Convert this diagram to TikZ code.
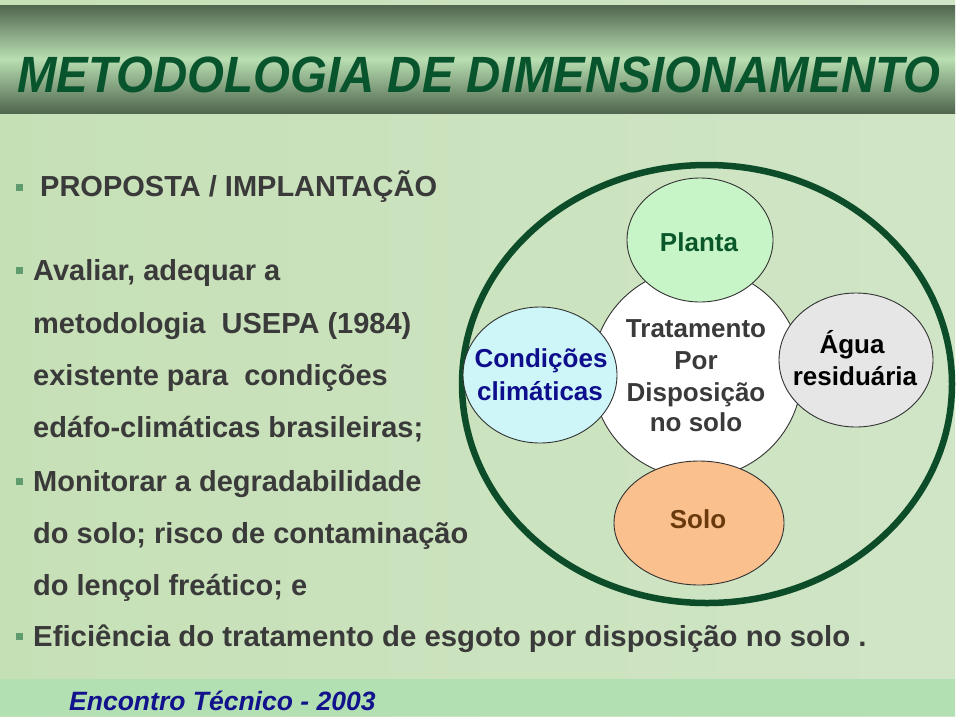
\documentclass[tikz,border=0pt]{standalone}
\usepackage{fontspec}
\setmainfont{Liberation Sans}
\usetikzlibrary{shapes.geometric}
\definecolor{bgA}{RGB}{198,224,182}
\definecolor{bgB}{RGB}{208,229,198}
\definecolor{barDark}{RGB}{80,102,78}
\definecolor{barLight}{RGB}{184,222,178}
\definecolor{titleGreen}{RGB}{8,84,44}
\definecolor{txtGrey}{RGB}{58,58,58}
\definecolor{bulGreen}{RGB}{96,156,110}
\definecolor{footGreen}{RGB}{178,224,178}
\definecolor{footBlue}{RGB}{18,18,140}
\definecolor{ringGreen}{RGB}{12,76,40}
\definecolor{plantaFill}{RGB}{200,245,200}
\definecolor{plantaTxt}{RGB}{10,88,42}
\definecolor{condFill}{RGB}{206,245,248}
\definecolor{condTxt}{RGB}{14,14,140}
\definecolor{aguaFill}{RGB}{230,230,230}
\definecolor{soloFill}{RGB}{250,192,142}
\definecolor{soloTxt}{RGB}{106,58,12}
\definecolor{edgeGrey}{RGB}{50,50,50}
\tikzset{
  bodytxt/.style={anchor=base west, inner sep=0pt, text=txtGrey, font=\bfseries\fontsize{29}{35}\selectfont},
  bul/.style={fill=bulGreen, minimum width=7pt, minimum height=7pt, inner sep=0pt, draw=none},
  ell/.style={ellipse, draw=edgeGrey, line width=0.9pt, inner sep=0pt},
  lbl/.style={anchor=base, inner sep=0pt, font=\bfseries\fontsize{26}{32}\selectfont},
}
\begin{document}
\begin{tikzpicture}[x=1pt,y=-1pt]
\useasboundingbox (0,0) rectangle (960,720);
\fill[white] (0,0) rectangle (960,720);
% textured background
\shade[left color=bgA, right color=bgB] (0,0) rectangle (955,716);
% title bar
\shade[top color=barDark, bottom color=barDark, middle color=barLight] (0,5) rectangle (955,113);
\node[anchor=base west, inner sep=0pt, text=titleGreen, font=\bfseries\itshape\fontsize{51}{58}\selectfont] (title) at (17,92) {\scalebox{0.93}[1]{METODOLOGIA DE DIMENSIONAMENTO}};
% footer
\fill[footGreen] (0,679) rectangle (955,716);
\node[anchor=base west, inner sep=0pt, text=footBlue, font=\bfseries\itshape\fontsize{26.5}{30}\selectfont] (foot) at (69,710) {Encontro Técnico - 2003};

% big ring
\node[ellipse, draw=ringGreen, line width=6.5pt, minimum width=490pt, minimum height=438pt, inner sep=0pt] (ring) at (707,384) {};

% left text
\node[bul] (b1) at (19.5,187) {};
\node[bodytxt] (t1) at (40,196) {PROPOSTA / IMPLANTAÇÃO};
\node[bul] (b2) at (19.5,270) {};
\node[bodytxt] (t2) at (33,280) {Avaliar, adequar a};
\node[bodytxt] (t3) at (33,333) {metodologia\ \ USEPA (1984)};
\node[bodytxt] (t4) at (33,385) {existente para\ \ condições};
\node[bodytxt] (t5) at (33,437) {edáfo-climáticas brasileiras;};
\node[bul] (b3) at (19.5,481) {};
\node[bodytxt] (t6) at (33,491) {Monitorar a degradabilidade};
\node[bodytxt] (t7) at (33,543) {do solo; risco de contaminação};
\node[bodytxt] (t8) at (33,595) {do lençol freático; e};
\node[bul] (b4) at (19.5,636) {};
\node[bodytxt] (t9) at (33,646) {\scalebox{1.012}[1]{Eficiência do tratamento de esgoto por disposição no solo .}};

% diagram
\node[circle, draw=edgeGrey, line width=0.9pt, fill=white, minimum size=210pt, inner sep=0pt] (centre) at (697,373) {};
\node[ell, fill=plantaFill, minimum width=146pt, minimum height=124pt] (planta) at (700,240) {};
\node[ell, fill=condFill, minimum width=154pt, minimum height=136pt] (cond) at (540,375) {};
\node[ell, fill=aguaFill, minimum width=154pt, minimum height=134pt] (agua) at (856,360) {};
\node[ell, fill=soloFill, minimum width=170pt, minimum height=124pt] (solo) at (699,523) {};

\node[lbl, text=txtGrey] (c1) at (696,337) {Tratamento};
\node[lbl, text=txtGrey] (c2) at (696,369) {Por};
\node[lbl, text=txtGrey] (c3) at (696,401) {Disposição};
\node[lbl, text=txtGrey] (c4) at (696,431) {no solo};
\node[lbl, text=plantaTxt] (pl) at (699,251) {Planta};
\node[lbl, text=condTxt] (cd1) at (541,367) {Condições};
\node[lbl, text=condTxt] (cd2) at (540,400) {climáticas};
\node[lbl, text=black] (ag1) at (852,353) {Água};
\node[lbl, text=black] (ag2) at (855,385) {residuária};
\node[lbl, text=soloTxt] (so) at (698,528) {Solo};
\end{tikzpicture}
\end{document}
